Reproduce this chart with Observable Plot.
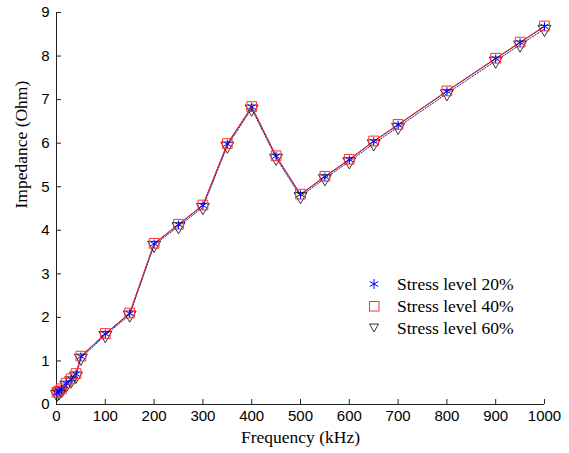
<!DOCTYPE html>
<html>
<head>
<meta charset="utf-8">
<script src="https://cdn.jsdelivr.net/npm/d3@7"></script>
<script src="https://cdn.jsdelivr.net/npm/@observablehq/plot@0.6"></script>
<style>
  html, body { margin: 0; padding: 0; background: #fff; }
  #wrap { position: relative; width: 569px; height: 453px; }
  #wrap svg g[aria-label="text"] text { font-family: "Liberation Serif", "Times New Roman", serif; }
  #legend { position: absolute; left: 362px; top: 273px; font-family: "Liberation Serif", "Times New Roman", serif; font-size: 17.5px; color: #000; }
  #legend .row { display: flex; align-items: center; height: 22px; }
  #legend svg { width: 24px; height: 22px; margin-right: 11px; }
</style>
</head>
<body>
<div id="wrap"></div>
<script>
const freq = [1, 5, 10, 20, 30, 40, 50, 100, 150, 200, 250, 300, 350, 400, 450, 500, 550, 600, 650, 700, 800, 900, 950, 1000];
const z20 = [0.27, 0.30, 0.35, 0.48, 0.58, 0.70, 1.10, 1.62, 2.09, 3.69, 4.13, 4.57, 5.98, 6.83, 5.70, 4.82, 5.23, 5.62, 6.04, 6.42, 7.19, 7.94, 8.31, 8.68];
const z40 = [0.28, 0.31, 0.36, 0.49, 0.59, 0.71, 1.11, 1.63, 2.10, 3.70, 4.14, 4.58, 5.99, 6.84, 5.71, 4.83, 5.24, 5.63, 6.05, 6.43, 7.20, 7.95, 8.32, 8.69];
const z60 = [0.24, 0.27, 0.32, 0.45, 0.55, 0.66, 1.07, 1.59, 2.06, 3.66, 4.09, 4.53, 5.94, 6.79, 5.66, 4.78, 5.19, 5.58, 5.99, 6.37, 7.14, 7.89, 8.26, 8.62];
const xTicks = [0, 100, 200, 300, 400, 500, 600, 700, 800, 900, 1000];
const yTicks = [0, 1, 2, 3, 4, 5, 6, 7, 8, 9];
const seriesNames = ["Stress level 20%", "Stress level 40%", "Stress level 60%"];

const d20 = freq.map((f, i) => ({f, z: z20[i]}));
const d40 = freq.map((f, i) => ({f, z: z40[i]}));
const d60 = freq.map((f, i) => ({f, z: z60[i]}));

const chart = Plot.plot({
  width: 569,
  height: 453,
  marginLeft: 56,
  marginRight: 25,
  marginTop: 12,
  marginBottom: 49,
  style: {fontFamily: "'Liberation Sans', Arial, sans-serif", fontSize: "15px", color: "#000", background: "#fff"},
  x: {domain: [0, 1000], ticks: xTicks},
  y: {domain: [0, 9], ticks: yTicks},
  marks: [
    Plot.axisX({ticks: xTicks, tickFormat: d => String(d), tickSize: -5, tickPadding: 11, stroke: "#222", label: null, fontSize: 15}),
    Plot.axisY({ticks: yTicks, tickFormat: d => String(d), tickSize: -5, tickPadding: 12, stroke: "#222", label: null, fontSize: 15}),
    Plot.ruleY([0], {stroke: "#222"}),
    Plot.ruleX([0], {stroke: "#222"}),
    Plot.line(d60, {x: "f", y: "z", stroke: "#333", strokeWidth: 1, strokeDasharray: "1.5,1.5"}),
    Plot.line(d20, {x: "f", y: "z", stroke: "#0000ff", strokeWidth: 1}),
    Plot.line(d40, {x: "f", y: "z", stroke: "#ff3030", strokeWidth: 1}),
    Plot.dot(d60, {x: "f", y: "z", symbol: "triangle", rotate: 180, r: 4.8, stroke: "#000", fill: "none", strokeWidth: 0.8}),
    Plot.dot(d40, {x: "f", y: "z", symbol: "square", r: 5.5, stroke: "#ff3030", fill: "none", strokeWidth: 1}),
    Plot.dot(d20, {x: "f", y: "z", symbol: "asterisk", r: 4, stroke: "#0000ff", strokeWidth: 1}),
    Plot.text(["Frequency (kHz)"], {frameAnchor: "bottom", dy: 38, fontFamily: "'Liberation Serif', 'Times New Roman', serif", fontSize: 17.5, fill: "#000"}),
    Plot.text(["Impedance (Ohm)"], {frameAnchor: "left", dx: -35, rotate: -90, fontFamily: "'Liberation Serif', 'Times New Roman', serif", fontSize: 17.5, fill: "#000"})
  ]
});
document.getElementById("wrap").appendChild(chart);

const legend = document.createElement("div");
legend.id = "legend";
const sym = [
  `<path d="M12,6 L12,16 M7.7,8.5 L16.3,13.5 M7.7,13.5 L16.3,8.5" stroke="#0000ff" stroke-width="1" fill="none"/>`,
  `<rect x="7.5" y="6.5" width="9.5" height="9.5" stroke="#ff3030" fill="none" stroke-width="1"/>`,
  `<path d="M7.5,7 L16.5,7 L12,15 Z" stroke="#000" fill="none" stroke-width="0.8"/>`
];
seriesNames.forEach((name, i) => {
  const row = document.createElement("div");
  row.className = "row";
  row.innerHTML = `<svg viewBox="0 0 24 22">${sym[i]}</svg><span>${name}</span>`;
  legend.appendChild(row);
});
document.getElementById("wrap").appendChild(legend);
</script>
</body>
</html>
